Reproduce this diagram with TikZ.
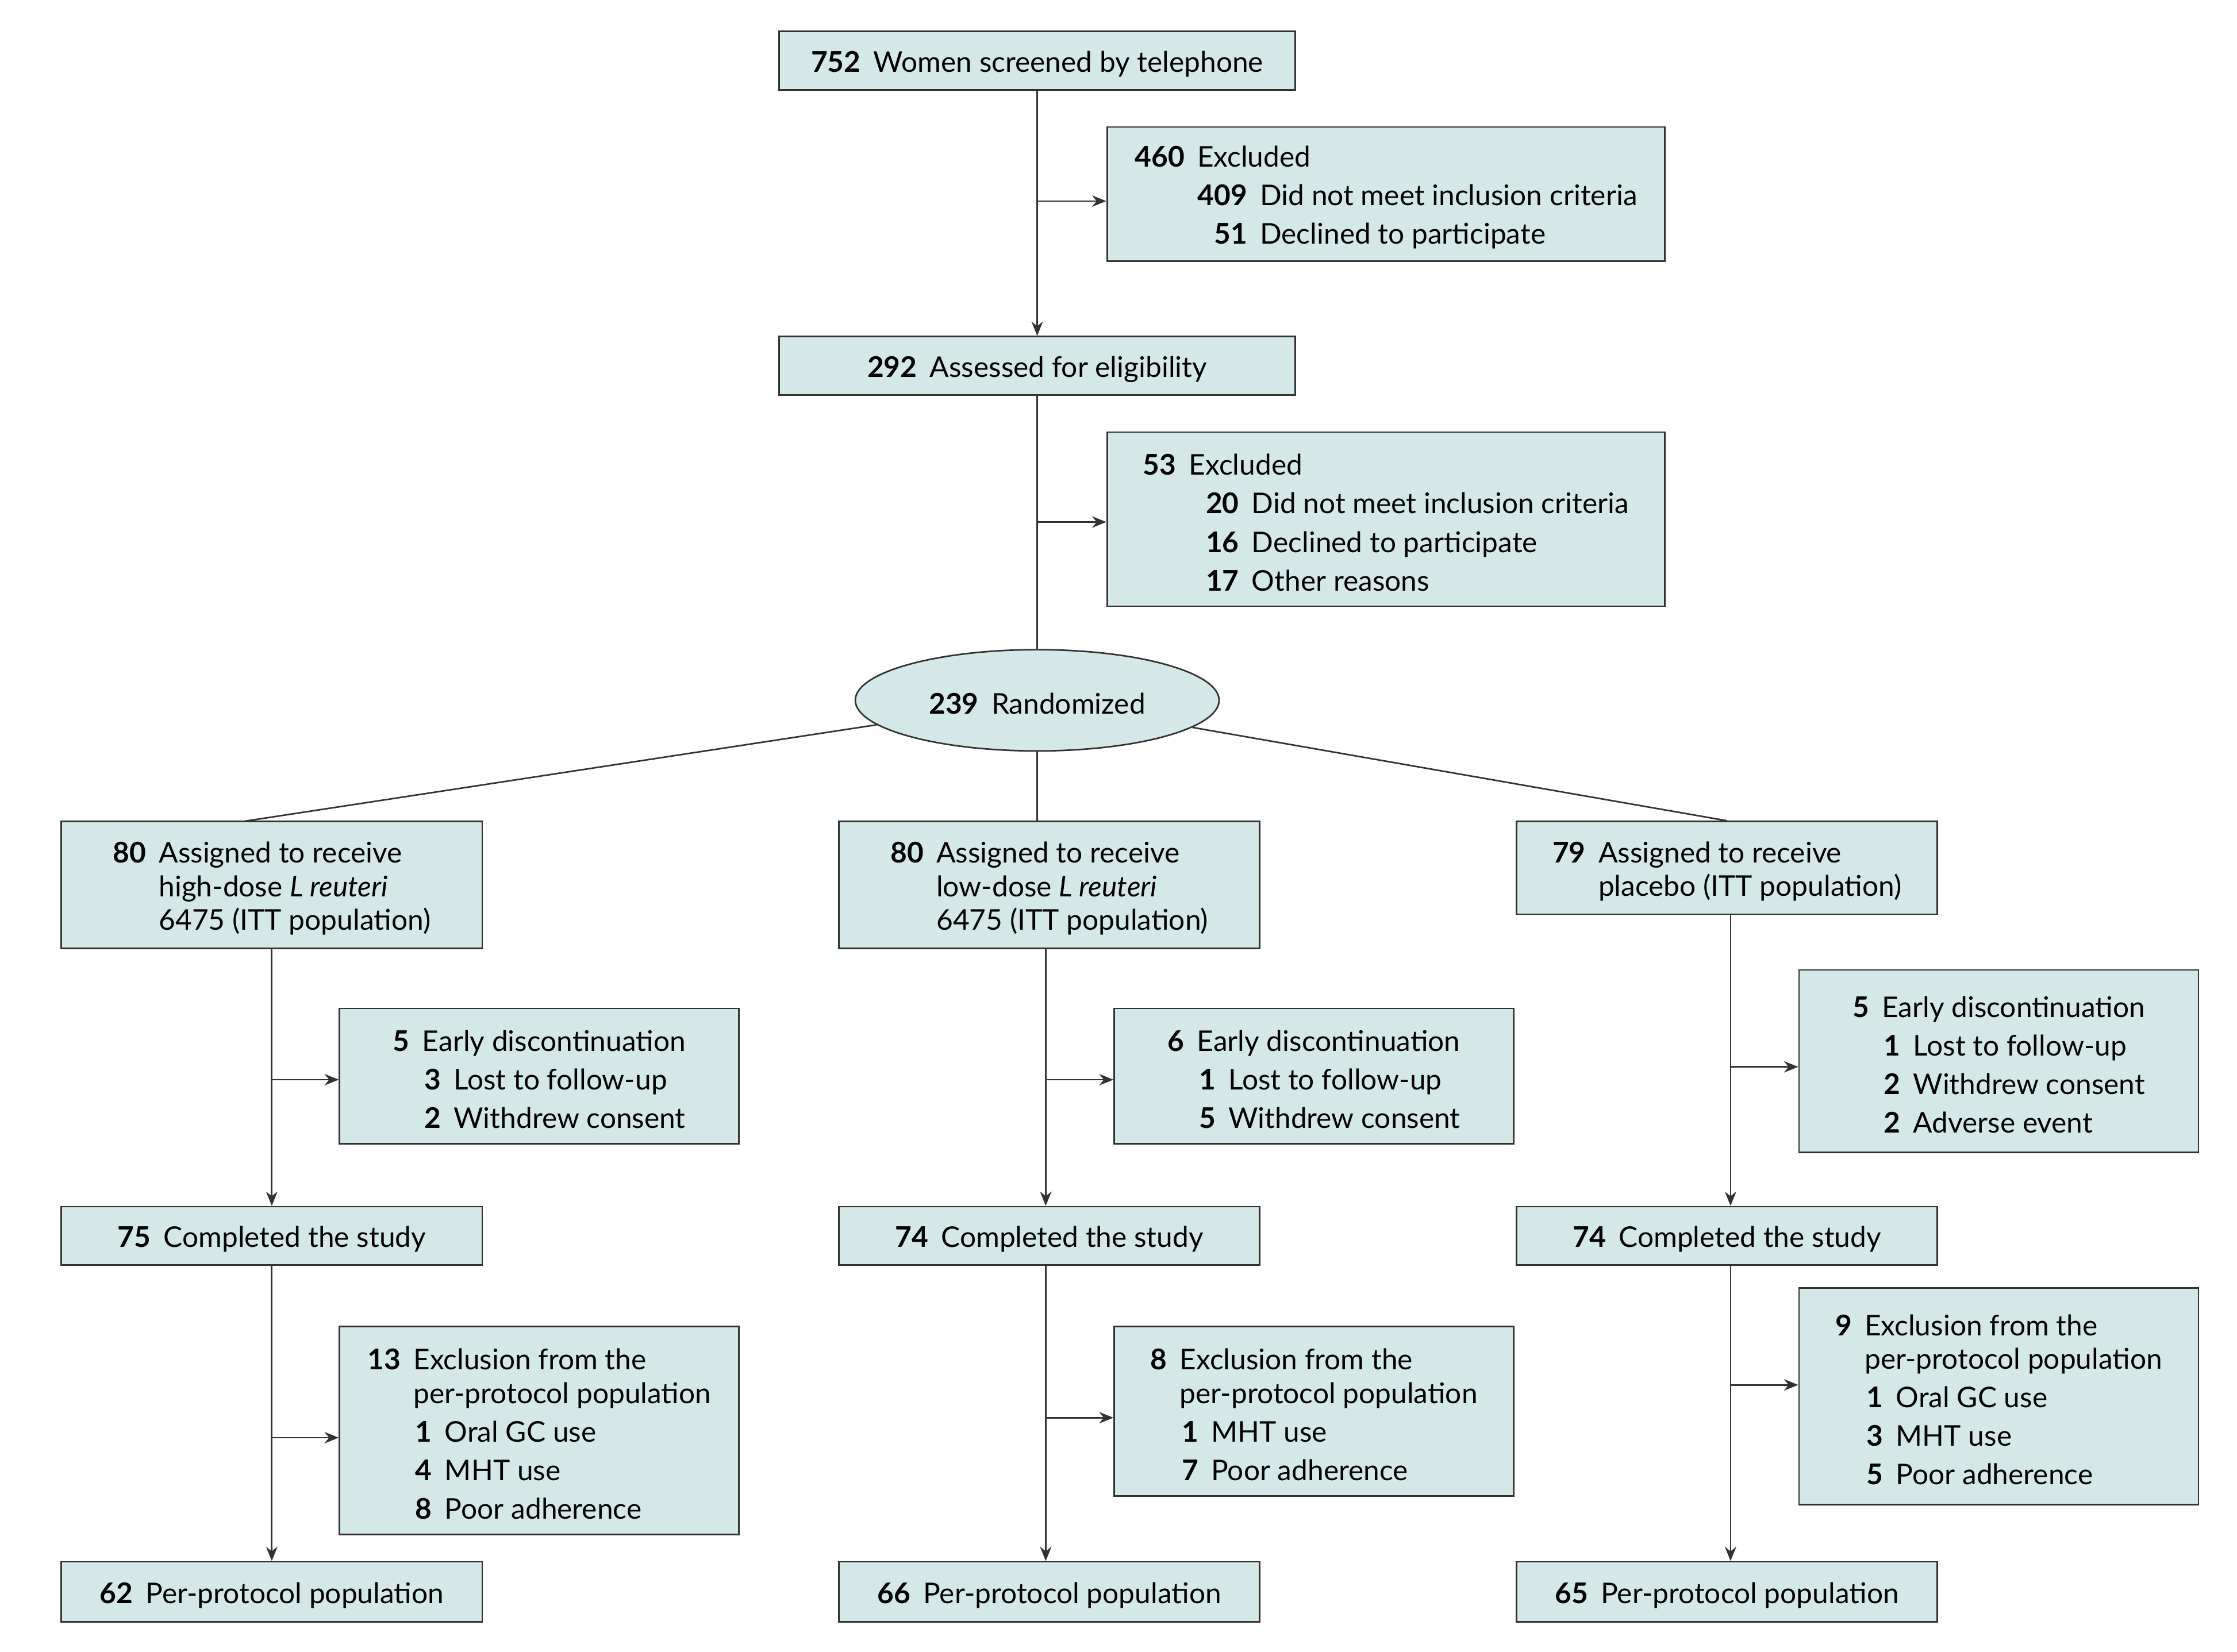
\documentclass[tikz,border=0pt]{standalone}
\usepackage{fontspec}
\setmainfont{Lato}
\usetikzlibrary{shapes.geometric,arrows.meta,calc}
\definecolor{boxfill}{RGB}{213,232,232}
\definecolor{boxline}{RGB}{50,50,50}
\newlength{\ngap}\setlength{\ngap}{9pt}
\newcommand{\mainln}[2]{\rule{0pt}{19.5pt}\textbf{#1}\hspace{\ngap}#2}
\newcommand{\contln}[2]{\hphantom{\textbf{#1}}\hspace{\ngap}#2}
\newcommand{\subln}[4]{\hphantom{\textbf{#1}}\hspace{\ngap}\makebox[#2][r]{\textbf{#3}}\hspace{\ngap}#4}
\begin{document}
\begin{tikzpicture}[x=1pt,y=-1pt,
  box/.style={draw=boxline, fill=boxfill, line width=1.1pt, rectangle, align=left, inner sep=0pt, font=\fontsize{20}{23.5}\selectfont},
  oval/.style={draw=boxline, fill=boxfill, line width=1.1pt, ellipse, inner sep=0pt, font=\fontsize{20}{23.5}\selectfont},
  arr/.style={draw=boxline, line width=1.1pt, -{Stealth[length=10pt,width=8pt]}},
  ln/.style={draw=boxline, line width=1.1pt}]
\useasboundingbox (0,0) rectangle (1568,1158);

% top part
\node[box, minimum width=362pt, minimum height=41pt] (top) at (727,42.5) {\mainln{752}{Women screened by telephone}};
\node[box, minimum width=391pt, minimum height=94pt] (ex1) at (971.5,136) {\mainln{460}{Excluded}\\[3.5pt]\subln{460}{35pt}{409}{Did not meet inclusion criteria}\\[3.5pt]\subln{460}{35pt}{51}{Declined to participate}};
\node[box, minimum width=362pt, minimum height=41pt] (elig) at (727,256.5) {\mainln{292}{Assessed for eligibility}};
\node[box, minimum width=391pt, minimum height=122pt] (ex2) at (971.5,364) {\mainln{53}{Excluded}\\[3.5pt]\subln{53}{35pt}{20}{Did not meet inclusion criteria}\\[3.5pt]\subln{53}{35pt}{16}{Declined to participate}\\[3.5pt]\subln{53}{35pt}{17}{Other reasons}};
\node[oval, minimum width=255pt, minimum height=71pt] (rand) at (727,491) {\mainln{239}{Randomized}};

% arms
\node[box, minimum width=295pt, minimum height=89pt] (aL) at (190.5,620.5) {\mainln{80}{Assigned to receive}\\\contln{80}{high-dose \textit{L reuteri}}\\\contln{80}{6475 (ITT population)}};
\node[box, minimum width=295pt, minimum height=89pt] (aM) at (735.5,620.5) {\mainln{80}{Assigned to receive}\\\contln{80}{low-dose \textit{L reuteri}}\\\contln{80}{6475 (ITT population)}};
\node[box, minimum width=295pt, minimum height=65pt] (aR) at (1210.5,608.5) {\mainln{79}{Assigned to receive}\\\contln{79}{placebo (ITT population)}};

\node[box, minimum width=280pt, minimum height=95pt] (dL) at (378,754.5) {\mainln{5}{Early discontinuation}\\[3.5pt]\subln{5}{13pt}{3}{Lost to follow-up}\\[3.5pt]\subln{5}{13pt}{2}{Withdrew consent}};
\node[box, minimum width=280pt, minimum height=95pt] (dM) at (921,754.5) {\mainln{6}{Early discontinuation}\\[3.5pt]\subln{6}{13pt}{1}{Lost to follow-up}\\[3.5pt]\subln{6}{13pt}{5}{Withdrew consent}};
\node[box, minimum width=280pt, minimum height=128pt] (dR) at (1401,744) {\mainln{5}{Early discontinuation}\\[3.5pt]\subln{5}{13pt}{1}{Lost to follow-up}\\[3.5pt]\subln{5}{13pt}{2}{Withdrew consent}\\[3.5pt]\subln{5}{13pt}{2}{Adverse event}};

\node[box, minimum width=295pt, minimum height=41pt] (cL) at (190.5,866.5) {\mainln{75}{Completed the study}};
\node[box, minimum width=295pt, minimum height=41pt] (cM) at (735.5,866.5) {\mainln{74}{Completed the study}};
\node[box, minimum width=295pt, minimum height=41pt] (cR) at (1210.5,866.5) {\mainln{74}{Completed the study}};

\node[box, minimum width=280pt, minimum height=146pt] (eL) at (378,1003) {\mainln{13}{Exclusion from the}\\\contln{13}{per-protocol population}\\[3.5pt]\subln{13}{13pt}{1}{Oral GC use}\\[3.5pt]\subln{13}{13pt}{4}{MHT use}\\[3.5pt]\subln{13}{13pt}{8}{Poor adherence}};
\node[box, minimum width=280pt, minimum height=119pt] (eM) at (921,989.5) {\mainln{8}{Exclusion from the}\\\contln{8}{per-protocol population}\\[3.5pt]\subln{8}{13pt}{1}{MHT use}\\[3.5pt]\subln{8}{13pt}{7}{Poor adherence}};
\node[box, minimum width=280pt, minimum height=152pt] (eR) at (1401,979) {\mainln{9}{Exclusion from the}\\\contln{9}{per-protocol population}\\[3.5pt]\subln{9}{13pt}{1}{Oral GC use}\\[3.5pt]\subln{9}{13pt}{3}{MHT use}\\[3.5pt]\subln{9}{13pt}{5}{Poor adherence}};

\node[box, minimum width=295pt, minimum height=42pt] (pL) at (190.5,1116) {\mainln{62}{Per-protocol population}};
\node[box, minimum width=295pt, minimum height=42pt] (pM) at (735.5,1116) {\mainln{66}{Per-protocol population}};
\node[box, minimum width=295pt, minimum height=42pt] (pR) at (1210.5,1116) {\mainln{65}{Per-protocol population}};

% branch points
\coordinate (b1) at (727,141);
\coordinate (b2) at (727,366);
\coordinate (bdL) at (190.5,757);
\coordinate (beL) at (190.5,1008);
\coordinate (bdM) at (733,757);
\coordinate (beM) at (733,994);
\coordinate (bdR) at (1213,748);
\coordinate (beR) at (1213,971);
\coordinate (aLin) at (170,576);

% connectors
\draw[arr] (top) -- (elig);
\draw[arr] (b1) -- (b1 -| ex1.west);
\draw[ln] (elig) -- (rand);
\draw[arr] (b2) -- (b2 -| ex2.west);
\draw[ln] (rand) -- (aLin);
\draw[ln] (rand) -- (aR.north);
\draw[ln] (rand) -- (rand |- aM.north);

\draw[arr] (aL) -- (cL);
\draw[arr] (bdL) -- (bdL -| dL.west);
\draw[arr] (cL) -- (pL);
\draw[arr] (beL) -- (beL -| eL.west);

\draw[arr] (bdM |- aM.south) -- (bdM |- cM.north);
\draw[arr] (bdM) -- (bdM -| dM.west);
\draw[arr] (beM |- cM.south) -- (beM |- pM.north);
\draw[arr] (beM) -- (beM -| eM.west);

\draw[arr] (bdR |- aR.south) -- (bdR |- cR.north);
\draw[arr] (bdR) -- (bdR -| dR.west);
\draw[arr] (beR |- cR.south) -- (beR |- pR.north);
\draw[arr] (beR) -- (beR -| eR.west);
\end{tikzpicture}
\end{document}
